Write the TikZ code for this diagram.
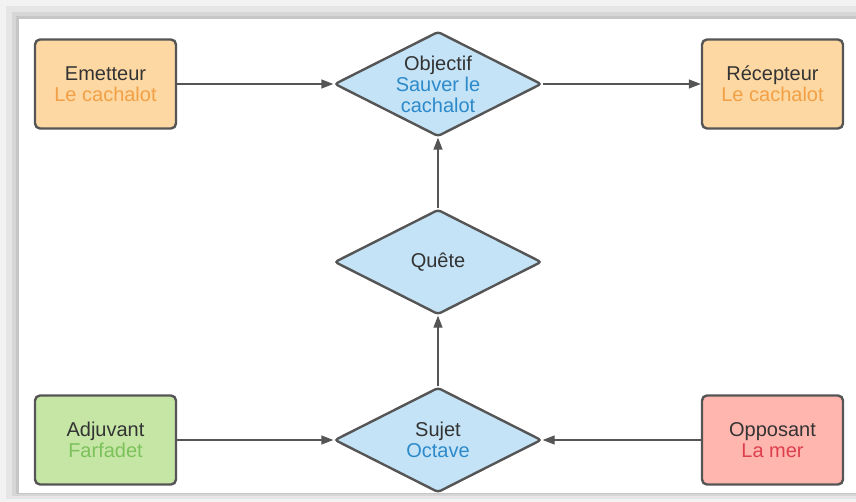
\documentclass[tikz,border=0pt]{standalone}
\usepackage{fontspec}
\setmainfont{Liberation Sans}
\usetikzlibrary{shapes.geometric,arrows.meta}

\definecolor{linegray}{HTML}{555555}
\definecolor{textdark}{HTML}{333333}
\definecolor{orangefill}{HTML}{FDD8A3}
\definecolor{orangetext}{HTML}{F2A045}
\definecolor{greenfill}{HTML}{C6E6A6}
\definecolor{greentext}{HTML}{7CC15A}
\definecolor{redfill}{HTML}{FFB6AF}
\definecolor{redtext}{HTML}{DE3F4E}
\definecolor{bluefill}{HTML}{C4E3F6}
\definecolor{bluetext}{HTML}{2C89CA}

\tikzset{
  actant/.style={draw=linegray, line width=1.2pt, rounded corners=2.5pt,
    minimum width=70.5pt, minimum height=44.5pt, align=center,
    text=textdark, font=\fontsize{10}{10.5}\selectfont},
  losange/.style={diamond, draw=linegray, line width=1.2pt, fill=bluefill,
    rounded corners=1.5pt, aspect=2, inner sep=0pt, minimum width=103.5pt,
    minimum height=52.5pt, align=center, text=textdark,
    font=\fontsize{10}{10.5}\selectfont},
  fleche/.style={draw=linegray, line width=0.7pt,
    -{Triangle[length=6pt,width=4.5pt]}}
}

\begin{document}
\begin{tikzpicture}[x=0.5pt,y=-0.5pt]
    \useasboundingbox (0,0) rectangle (856,502);

    % Cadre ombre
    \fill[gray!10] (0,0) rectangle (856,502);
    \fill[gray!20] (6,6) rectangle (856,499);
    \fill[gray!32] (12,12) rectangle (856,496);
    \fill[gray!45] (16,16) rectangle (856,494);
    \fill[white] (19,19) rectangle (856,493);

    % Actants
    \node[actant, fill=orangefill] (emetteur) at (105.5,84)
        {Emetteur\\\textcolor{orangetext}{Le cachalot}};
    \node[actant, fill=orangefill] (recepteur) at (772.5,84)
        {Récepteur\\\textcolor{orangetext}{Le cachalot}};
    \node[actant, fill=greenfill] (adjuvant) at (105.5,440)
        {Adjuvant\\\textcolor{greentext}{Farfadet}};
    \node[actant, fill=redfill] (opposant) at (772.5,440)
        {Opposant\\\textcolor{redtext}{La mer}};

    % Losanges
    \node[losange] (objectif) at (438,84)
        {Objectif\\\textcolor{bluetext}{Sauver le}\\\textcolor{bluetext}{cachalot}};
    \node[losange] (quete) at (438,262) {Quête};
    \node[losange] (sujet) at (438,440)
        {Sujet\\\textcolor{bluetext}{Octave}};

    % Fleches
    \draw[fleche] (emetteur.east) -- (objectif.west);
    \draw[fleche] (objectif.east) -- (recepteur.west);
    \draw[fleche] (quete.north) -- (objectif.south);
    \draw[fleche] (sujet.north) -- (quete.south);
    \draw[fleche] (adjuvant.east) -- (sujet.west);
    \draw[fleche] (opposant.west) -- (sujet.east);
\end{tikzpicture}
\end{document}
